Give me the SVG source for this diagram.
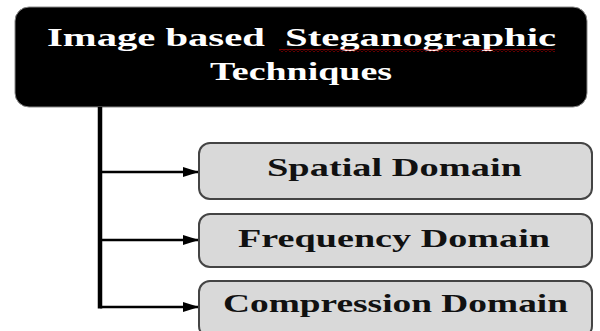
<svg xmlns="http://www.w3.org/2000/svg" width="600" height="331" viewBox="0 0 600 331">
  <defs>
    <marker id="arrow" markerWidth="16" markerHeight="12" refX="16" refY="6" orient="auto" markerUnits="userSpaceOnUse">
      <path d="M0,1 L16,6 L0,11 Z" fill="#000"/>
    </marker>
    <pattern id="squiggle" x="0" y="0" width="4" height="3" patternUnits="userSpaceOnUse">
      <path d="M0,2.5 L2,0.5 L4,2.5" fill="none" stroke="#e00000" stroke-width="1"/>
    </pattern>
  </defs>
  <style>
    text { font-family: "Liberation Serif", "DejaVu Serif", serif; font-weight: 700; font-size: 26px; }
    .title { fill: #ffffff; }
    .label { fill: #111111; }
    .child { fill: #d9d9d9; stroke: #444444; stroke-width: 2; }
    .link { fill: none; stroke: #000; stroke-width: 2.5; }
  </style>
  <rect width="600" height="331" fill="#ffffff"/>

  <!-- top node: black rounded box with two-line title -->
  <g id="root">
    <rect x="15" y="7" width="572" height="100" rx="14" ry="14" fill="#000" stroke="#888" stroke-width="1"/>
    <text class="title" x="47" y="46" textLength="509" lengthAdjust="spacingAndGlyphs" xml:space="preserve">Image based  Steganographic</text>
    <rect x="279" y="49" width="276" height="3" fill="url(#squiggle)"/>
    <text class="title" x="210" y="80" textLength="182" lengthAdjust="spacingAndGlyphs">Techniques</text>
  </g>

  <!-- trunk line and branch arrows -->
  <g id="connectors">
    <line x1="100" y1="107" x2="100" y2="308.5" stroke="#000" stroke-width="4.5"/>
    <line class="link" x1="100" y1="172" x2="199" y2="172" marker-end="url(#arrow)"/>
    <line class="link" x1="100" y1="240" x2="199" y2="240" marker-end="url(#arrow)"/>
    <line class="link" x1="100" y1="307" x2="199" y2="307" marker-end="url(#arrow)"/>
  </g>

  <g id="spatial">
    <rect class="child" x="199" y="143" width="393" height="56" rx="11" ry="11"/>
    <text class="label" x="267" y="176" textLength="255" lengthAdjust="spacingAndGlyphs">Spatial Domain</text>
  </g>

  <g id="frequency">
    <rect class="child" x="199" y="214" width="393" height="53" rx="11" ry="11"/>
    <text class="label" x="238" y="246.5" textLength="312" lengthAdjust="spacingAndGlyphs">Frequency Domain</text>
  </g>

  <g id="compression">
    <rect class="child" x="199" y="281" width="393" height="56" rx="11" ry="11"/>
    <text class="label" x="223" y="311.5" textLength="345" lengthAdjust="spacingAndGlyphs">Compression Domain</text>
  </g>
</svg>
